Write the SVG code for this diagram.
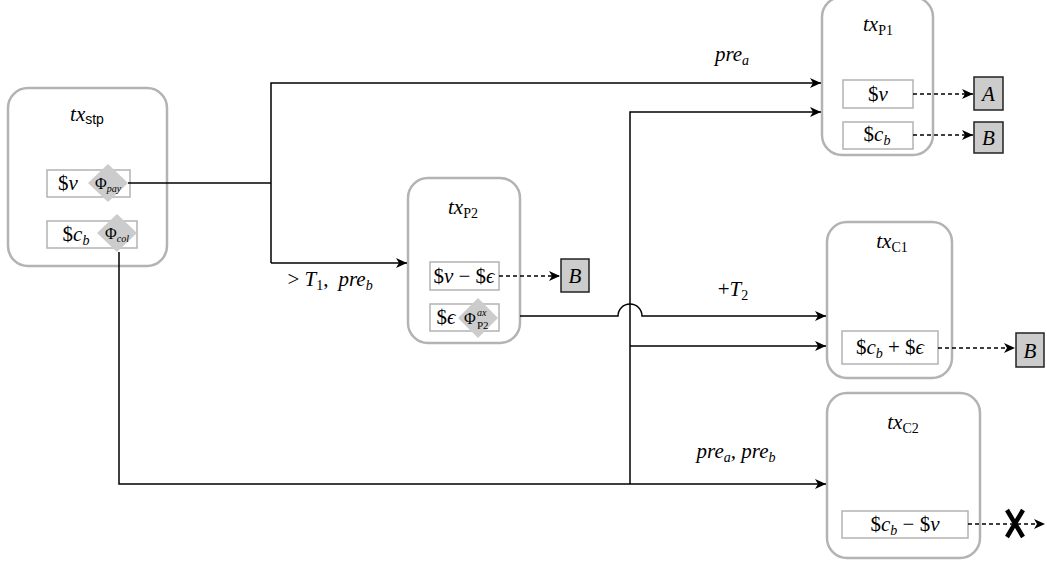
<svg xmlns="http://www.w3.org/2000/svg" width="1047" height="565" viewBox="0 0 1047 565" font-family="Liberation Serif, DejaVu Serif, serif">
<style>
.node{fill:#fff;stroke:#b3b3b3;stroke-width:2.5}
.cell{fill:#fff;stroke:#b3b3b3;stroke-width:1.5}
.dia{fill:#cccccc}
.out{fill:#cccccc;stroke:#222;stroke-width:1.5}
.ln{fill:none;stroke:#000;stroke-width:1.5}
.dash{fill:none;stroke:#000;stroke-width:1.5;stroke-dasharray:4 3}
text{font-family:"Liberation Serif","DejaVu Serif",serif;font-size:21px;fill:#000}
.it{font-style:italic}
.sub{font-size:14px}
.sans{font-family:"Liberation Sans","DejaVu Sans",sans-serif}
</style>
<defs>
<marker id="arr" markerUnits="userSpaceOnUse" markerWidth="12" markerHeight="10" refX="11" refY="5" orient="auto">
<path d="M0,0 L11,5 L0,10 L3,5 z" fill="#000"/>
</marker>
</defs>
<g id="tx_stp">
<rect class="node" x="8" y="88" width="159" height="178" rx="20"/>
<text x="87" y="121" text-anchor="middle"><tspan class="it">tx</tspan><tspan class="sub sans" dy="3">stp</tspan></text>
<rect class="cell" x="47" y="170" width="83" height="27"/>
<text x="68" y="190" text-anchor="middle">$<tspan class="it">v</tspan></text>
<polygon class="dia" points="108,164 128,183 108,202 88,183"/>
<text x="108" y="189" text-anchor="middle" style="font-size:16px">Φ<tspan class="it" style="font-size:10px" dy="3">pay</tspan></text>
<rect class="cell" x="47" y="221" width="90" height="27"/>
<text x="76" y="241" text-anchor="middle">$<tspan class="it">c</tspan><tspan class="sub it" dy="4">b</tspan></text>
<polygon class="dia" points="117,214 137,233 117,252 97,233"/>
<text x="117" y="239" text-anchor="middle" style="font-size:16px">Φ<tspan class="it" style="font-size:10px" dy="3">col</tspan></text>
</g>
<g id="tx_P2">
<rect class="node" x="408" y="178" width="112" height="165" rx="20"/>
<text x="463" y="214" text-anchor="middle"><tspan class="it">tx</tspan><tspan class="sub" dy="4">P2</tspan></text>
<rect class="cell" x="430" y="262" width="69" height="28"/>
<text x="464" y="283" text-anchor="middle">$<tspan class="it">v</tspan> − $<tspan class="it">ϵ</tspan></text>
<rect class="cell" x="430" y="304" width="69" height="27"/>
<text x="446" y="324" text-anchor="middle">$<tspan class="it">ϵ</tspan></text>
<polygon class="dia" points="478,298 498,318 478,338 458,318"/>
<text x="464" y="324" style="font-size:16px">Φ</text>
<text x="477" y="316" class="it" style="font-size:10px">ax</text>
<text x="477" y="329" style="font-size:11px">P2</text>
<rect class="out" x="561" y="259" width="28" height="33"/>
<text x="575" y="283" text-anchor="middle" class="it">B</text>
</g>
<g id="tx_P1">
<rect class="node" x="822" y="-3" width="111" height="158" rx="20"/>
<text x="878" y="31" text-anchor="middle"><tspan class="it">tx</tspan><tspan class="sub" dy="4">P1</tspan></text>
<rect class="cell" x="843" y="80" width="70" height="28"/>
<text x="878" y="101" text-anchor="middle">$<tspan class="it">v</tspan></text>
<rect class="cell" x="843" y="122" width="70" height="27"/>
<text x="877" y="141" text-anchor="middle">$<tspan class="it">c</tspan><tspan class="sub it" dy="4">b</tspan></text>
<rect class="out" x="974" y="77" width="29" height="33"/>
<text x="988.5" y="101" text-anchor="middle" class="it">A</text>
<rect class="out" x="974" y="122" width="29" height="31"/>
<text x="988.5" y="145" text-anchor="middle" class="it">B</text>
</g>
<g id="tx_C1">
<rect class="node" x="827" y="222" width="125" height="156" rx="20"/>
<text x="892" y="248" text-anchor="middle"><tspan class="it">tx</tspan><tspan class="sub" dy="4">C1</tspan></text>
<rect class="cell" x="842" y="331" width="96" height="33"/>
<text x="890" y="354" text-anchor="middle">$<tspan class="it">c</tspan><tspan class="sub it" dy="4">b</tspan><tspan dy="-4"> + $</tspan><tspan class="it">ϵ</tspan></text>
<rect class="out" x="1016" y="333" width="28" height="34"/>
<text x="1030" y="358" text-anchor="middle" class="it">B</text>
</g>
<g id="tx_C2">
<rect class="node" x="827" y="393" width="153" height="165" rx="20"/>
<text x="903" y="429" text-anchor="middle"><tspan class="it">tx</tspan><tspan class="sub" dy="4">C2</tspan></text>
<rect class="cell" x="842" y="511" width="126" height="27"/>
<text x="905" y="531" text-anchor="middle">$<tspan class="it">c</tspan><tspan class="sub it" dy="4">b</tspan><tspan dy="-4"> − $</tspan><tspan class="it">v</tspan></text>
</g>
<g id="connectors">
<path class="ln" d="M128,183 H271"/>
<path class="ln" d="M271,263 V83 H821" marker-end="url(#arr)"/>
<path class="ln" d="M271,263 H407" marker-end="url(#arr)"/>
<path class="ln" d="M119,252 V484 H826" marker-end="url(#arr)"/>
<path class="ln" d="M630,484 V112 H821" marker-end="url(#arr)"/>
<path class="ln" d="M630,346 H826" marker-end="url(#arr)"/>
<path class="ln" d="M520,316 H618 A12,12 0 0 1 642,316 H826" marker-end="url(#arr)"/>
<path class="dash" d="M499,276 H560" marker-end="url(#arr)"/>
<path class="dash" d="M913,94 H973" marker-end="url(#arr)"/>
<path class="dash" d="M913,135 H973" marker-end="url(#arr)"/>
<path class="dash" d="M938,348 H1015" marker-end="url(#arr)"/>
<path class="dash" d="M968,524 H1045" marker-end="url(#arr)"/>
<path d="M1007,510 L1023,537 M1023,510 L1007,537" stroke="#000" stroke-width="4.5" fill="none"/>
<text x="732" y="61" text-anchor="middle" class="it">pre<tspan class="sub" dy="4">a</tspan></text>
<text x="330" y="286" text-anchor="middle">&gt; <tspan class="it">T</tspan><tspan class="sub" dy="4">1</tspan><tspan dy="-4">,</tspan><tspan class="it" dx="10">pre</tspan><tspan class="sub it" dy="4">b</tspan></text>
<text x="733" y="296" text-anchor="middle">+<tspan class="it">T</tspan><tspan class="sub" dy="4">2</tspan></text>
<text x="736" y="458" text-anchor="middle" class="it">pre<tspan class="sub" dy="4">a</tspan><tspan dy="-4">, pre</tspan><tspan class="sub" dy="4">b</tspan></text>
</g>
</svg>
